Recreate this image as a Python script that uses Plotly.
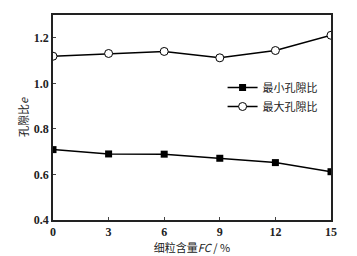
import plotly.graph_objects as go

fc = [0, 3, 6, 9, 12, 15]
e_min = [0.709, 0.690, 0.689, 0.671, 0.652, 0.612]
e_max = [1.119, 1.131, 1.140, 1.112, 1.144, 1.211]
x_ticks = [0, 3, 6, 9, 12, 15]
y_ticks = [0.4, 0.6, 0.8, 1.0, 1.2]
y_tick_text = ["0.4", "0.6", "0.8", "1.0", "1.2"]

fig = go.Figure()
fig.add_trace(go.Scatter(x=fc, y=e_min, mode="lines+markers", name="最小孔隙比",
                         line=dict(color="black", width=1.5),
                         marker=dict(symbol="square", size=7, color="black")))
fig.add_trace(go.Scatter(x=fc, y=e_max, mode="lines+markers", name="最大孔隙比",
                         line=dict(color="black", width=1.5),
                         marker=dict(symbol="circle", size=8, color="white",
                                     line=dict(color="black", width=1))))

num_font = dict(family="Liberation Serif", size=12, color="#222", weight="bold")
cjk_font = dict(family="Noto Sans CJK SC", size=11, color="#222")
fig.update_layout(
    width=357, height=256,
    margin=dict(l=53, r=26, t=15, b=36),
    paper_bgcolor="white", plot_bgcolor="white",
    showlegend=True,
    legend=dict(x=0.61, y=0.6, xanchor="left", yanchor="middle",
                bgcolor="rgba(0,0,0,0)", font=cjk_font,
                tracegroupgap=0, itemwidth=30),
    xaxis=dict(range=[0, 15], tickvals=x_ticks, ticks="inside", ticklen=3,
               showgrid=False, zeroline=False, showline=True, linecolor="#222",
               linewidth=1.5, mirror=True, tickfont=num_font, automargin=False,
               title=dict(text="细粒含量<i>FC</i> / %", standoff=1, font=cjk_font)),
    yaxis=dict(range=[0.4, 1.3], tickvals=y_ticks, ticktext=y_tick_text, ticks="inside",
               ticklen=3, showgrid=False, zeroline=False, showline=True,
               linecolor="#222", linewidth=1.5, mirror=True, tickfont=num_font,
               automargin=False,
               title=dict(text="孔隙比<i>e</i>", standoff=3, font=cjk_font)),
)
fig.write_html("out.html")
